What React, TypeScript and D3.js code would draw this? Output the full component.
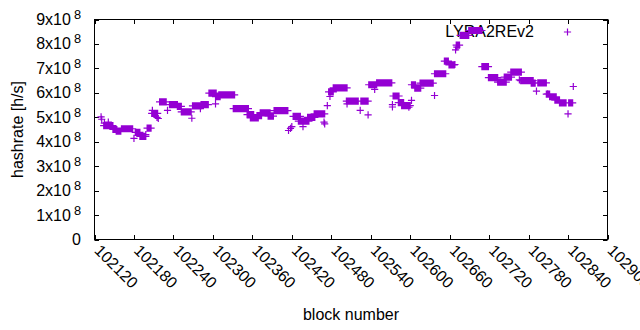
import React from "react";
import * as d3 from "d3";

// runs of consecutive blocks with the same hashrate: [firstBlock, lastBlock, hashrate (x1e8 h/s)]
const runs: [number, number, number][] = [
  [102134, 102148, 4.66], [102148, 102154, 4.5], [102153, 102160, 4.43], [102161, 102178, 4.53],
  [102182, 102189, 4.38], [102189, 102198, 4.22], [102200, 102206, 4.56], [102207, 102216, 5.16],
  [102219, 102229, 5.63], [102234, 102246, 5.52], [102246, 102252, 5.45], [102252, 102267, 5.22],
  [102269, 102282, 5.47], [102282, 102293, 5.52], [102294, 102305, 5.99], [102304, 102311, 5.84],
  [102309, 102333, 5.92], [102331, 102354, 5.35], [102352, 102362, 5.11], [102357, 102369, 4.97],
  [102367, 102374, 5.07], [102372, 102387, 5.18], [102384, 102392, 5.05], [102393, 102414, 5.27],
  [102422, 102433, 5.04], [102430, 102446, 4.84], [102444, 102455, 5.0], [102454, 102470, 5.14],
  [102476, 102483, 6.04], [102483, 102504, 6.2], [102503, 102521, 5.66], [102525, 102536, 5.66],
  [102537, 102549, 6.33], [102549, 102572, 6.41], [102574, 102583, 5.87], [102582, 102590, 5.6],
  [102587, 102600, 5.48], [102602, 102608, 6.33], [102607, 102616, 6.19], [102615, 102635, 6.4],
  [102637, 102654, 6.78], [102652, 102658, 7.3], [102659, 102667, 7.14], [102670, 102675, 7.95],
  [102676, 102689, 8.35], [102689, 102709, 8.55], [102709, 102719, 7.07], [102719, 102733, 6.62],
  [102733, 102746, 6.44], [102743, 102754, 6.64], [102753, 102769, 6.85], [102768, 102787, 6.5],
  [102784, 102790, 6.4], [102794, 102807, 6.41], [102807, 102812, 5.95], [102812, 102822, 5.84],
  [102820, 102827, 5.7], [102827, 102837, 5.59], [102841, 102847, 5.59],
];

// isolated points: [block, hashrate (x1e8 h/s)]
const singles: [number, number][] = [
  [102130, 5.02], [102131, 4.92], [102135, 4.76], [102141, 4.8], [102180, 4.14], [102198, 4.29],
  [102208, 5.28], [102215, 5.0], [102217, 4.95], [102231, 5.28], [102268, 4.96], [102281, 5.35],
  [102304, 5.55], [102415, 4.46], [102418, 4.55], [102420, 4.62], [102437, 4.62], [102469, 4.8],
  [102470, 4.73], [102474, 5.48], [102478, 5.85], [102504, 5.55], [102524, 5.28], [102536, 5.1],
  [102546, 6.14], [102573, 5.52], [102573, 5.42], [102598, 5.41], [102602, 5.69], [102637, 5.89],
  [102668, 7.16], [102669, 7.76], [102671, 7.87], [102766, 6.53], [102792, 6.07], [102809, 5.96],
  [102840, 5.14], [102848, 6.26],
];

const xTicks = [102120, 102180, 102240, 102300, 102360, 102420, 102480, 102540, 102600, 102660, 102720, 102780, 102840, 102900];
const yTicks = [0, 1, 2, 3, 4, 5, 6, 7, 8, 9];
const seriesName = "LYRA2REv2";
const xTitle = "block number";
const yTitle = "hashrate [h/s]";

const W = 640, H = 330;
const L = 94.5, R = 607.5, T = 19.5, B = 239.5;
const COLOR = "#9400d3";
const FONT = "'Liberation Sans', Arial, sans-serif";

export default function App() {
  const x = d3.scaleLinear().domain([102120, 102900]).range([L, R]);
  const y = d3.scaleLinear().domain([0, 9]).range([B, T]);

  const pts: [number, number][] = [];
  runs.forEach(([s, e, v]) => {
    for (let b = s; b <= e; b++) pts.push([b, v]);
  });
  singles.forEach((p) => pts.push(p));

  const a = 3.6;
  const plus = (cx: number, cy: number) => `M${cx - a},${cy}h${2 * a}M${cx},${cy - a}v${2 * a}`;
  const dPts = pts.map(([b, v]) => plus(x(b), y(v))).join("");
  const tl = 4.5;

  return (
    <svg width={W} height={H} style={{ position: "fixed", left: 0, top: 0, background: "#fff" }} fontFamily={FONT}>
      <rect x={0} y={0} width={W} height={H} fill="#fff" />
      {/* ticks */}
      <g stroke="#000" strokeWidth={1}>
        {yTicks.map((t) => (
          <g key={"y" + t}>
            <line x1={L} x2={L + tl} y1={Math.round(y(t)) + 0.5} y2={Math.round(y(t)) + 0.5} />
            <line x1={R} x2={R - tl} y1={Math.round(y(t)) + 0.5} y2={Math.round(y(t)) + 0.5} />
          </g>
        ))}
        {xTicks.map((t) => (
          <g key={"x" + t}>
            <line x1={Math.round(x(t)) + 0.5} x2={Math.round(x(t)) + 0.5} y1={B} y2={B - tl} />
            <line x1={Math.round(x(t)) + 0.5} x2={Math.round(x(t)) + 0.5} y1={T} y2={T + tl} />
          </g>
        ))}
      </g>
      {/* y tick labels */}
      {yTicks.map((t) => (
        <text key={"yl" + t} x={81} y={y(t) + 5.5} textAnchor="end" fontSize={16} fill="#000">
          {t === 0 ? "0" : (
            <>
              {`${t}x10`}
              <tspan dx={3} dy={-6} fontSize={12.8}>8</tspan>
            </>
          )}
        </text>
      ))}
      {/* x tick labels */}
      {xTicks.map((t) => (
        <text key={"xl" + t} transform={`translate(${x(t) - 1},${B + 12}) rotate(45)`} fontSize={16} fill="#000">
          {t}
        </text>
      ))}
      {/* axis titles */}
      <text x={(L + R) / 2} y={320} textAnchor="middle" fontSize={16} fill="#000">{xTitle}</text>
      <text transform={`translate(23,${(T + B) / 2}) rotate(-90)`} textAnchor="middle" fontSize={16} fill="#000">{yTitle}</text>
      {/* legend */}
      <text x={534} y={37} textAnchor="end" fontSize={16} fill="#000">{seriesName}</text>
      <path d={plus(567.5, 32)} stroke={COLOR} strokeWidth={1.2} fill="none" />
      {/* points */}
      <path d={dPts} stroke={COLOR} strokeWidth={1.2} fill="none" />
      {/* border */}
      <rect x={L} y={T} width={R - L} height={B - T} fill="none" stroke="#000" strokeWidth={1} />
    </svg>
  );
}
